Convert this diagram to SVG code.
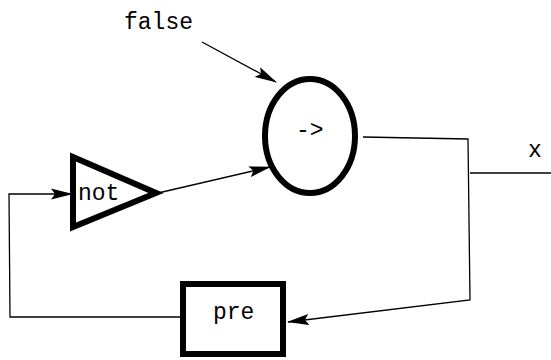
<svg xmlns="http://www.w3.org/2000/svg" width="551" height="360" viewBox="0 0 551 360">
<style>
text{font-family:"Liberation Mono","Courier New",monospace;font-size:23px;fill:#000}
.node{fill:#fff;stroke:#000;stroke-width:6}
.wire{fill:none;stroke:#000;stroke-width:1.3}
</style>
<defs>
<marker id="ah" markerWidth="22" markerHeight="12" refX="21" refY="6" orient="auto" markerUnits="userSpaceOnUse">
<path d="M0,0.5 L22,6 L0,11.5 L4,6 Z" fill="#000"/>
</marker>
</defs>
<rect width="551" height="360" fill="#fff"/>
<g id="connectors">
<path class="wire" d="M202,42 L276,82" marker-end="url(#ah)"/>
<path class="wire" d="M158,193 L270,167" marker-end="url(#ah)"/>
<path class="wire" d="M363,137 L468,139 L470,300 L288,322" marker-end="url(#ah)"/>
<path class="wire" d="M470,173 L551,173"/>
<path class="wire" d="M181,317 L10,317 L9,194 L72,194" marker-end="url(#ah)"/>
</g>
<g id="false-label"><text x="124" y="29">false</text></g>
<g id="x-label"><text x="528" y="157">x</text></g>
<g id="arrow-node">
<ellipse class="node" cx="310" cy="136" rx="45" ry="57"/>
<text x="296" y="137">-&gt;</text>
</g>
<g id="not-node">
<path class="node" d="M73,157 L156,193 L73,227 Z"/>
<text x="78" y="200">not</text>
</g>
<g id="pre-node">
<rect class="node" x="183" y="284" width="100" height="70"/>
<text x="213" y="319">pre</text>
</g>
</svg>
